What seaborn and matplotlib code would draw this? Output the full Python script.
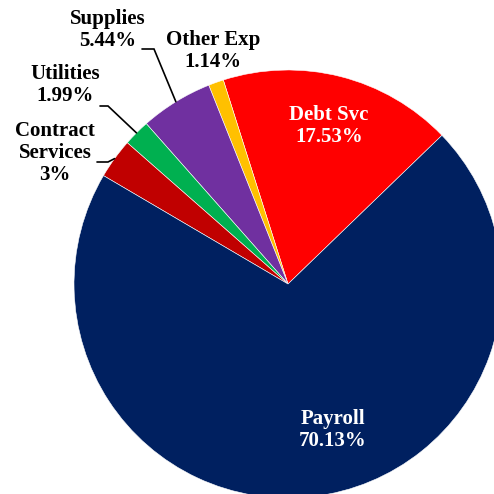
import numpy as np
import matplotlib
matplotlib.use("Agg")
import matplotlib.pyplot as plt
import seaborn as sns

# Expense categories and their shares (%)
categories = ["Debt Svc", "Other Exp", "Supplies", "Utilities", "Contract\nServices", "Payroll"]
shares = [17.53, 1.14, 5.44, 1.99, 3, 70.13]
share_labels = ["17.53%", "1.14%", "5.44%", "1.99%", "3%", "70.13%"]
colors = ["#FF0000", "#FFC000", "#7030A0", "#00B050", "#C00000", "#002060"]

sns.set_theme(style="white")
plt.rcParams["font.family"] = ["Liberation Serif", "DejaVu Serif"]

W = H = 494
fig = plt.figure(figsize=(W / 100, H / 100), dpi=100)
cx, cy, R = 288, 284, 214
ax = fig.add_axes([(cx - R) / W, (H - cy - R) / H, 2 * R / W, 2 * R / H])

wedges, _ = ax.pie(shares, colors=colors, startangle=44, counterclock=True,
                   radius=1, wedgeprops=dict(linewidth=0.4, edgecolor="white"))
ax.set_xlim(-1, 1)
ax.set_ylim(-1, 1)
ax.set_aspect("equal")
ax.axis("off")


def px(x, y):
    """Pixel position (from top-left) to data coordinates."""
    return (x - cx) / R, (cy - y) / R


def mid_edge(w):
    a = np.deg2rad((w.theta1 + w.theta2) / 2)
    return np.cos(a), np.sin(a)


fs = 15
# labels inside the two large wedges
for i, (x, y) in {0: (329, 126), 5: (333, 430)}.items():
    tx, ty = px(x, y)
    ax.text(tx, ty, f"{categories[i]}\n{share_labels[i]}", ha="center", va="center",
            color="white", fontsize=fs, fontweight="bold", linespacing=1.15)

# outside labels for the small wedges
outside = {1: (213, 51), 2: (108, 30), 3: (65, 85), 4: (55, 153)}
for i, (x, y) in outside.items():
    tx, ty = px(x, y)
    ax.text(tx, ty, f"{categories[i]}\n{share_labels[i]}", ha="center", va="center",
            color="black", fontsize=fs, fontweight="bold", linespacing=1.15, clip_on=False)

# leader lines: short horizontal stub, then to the wedge's outer edge
leaders = {2: ((142, 49), (154, 49)), 3: ((100, 106), (108, 106)), 4: ((97, 162), (108, 162))}
for i, (p0, p1) in leaders.items():
    ex, ey = mid_edge(wedges[i])
    x0, y0 = px(*p0)
    x1, y1 = px(*p1)
    ax.plot([x0, x1, ex], [y0, y1, ey], color="black", lw=1.2, clip_on=False,
            solid_joinstyle="miter")

fig.savefig("out.png", dpi=100, facecolor="white")
